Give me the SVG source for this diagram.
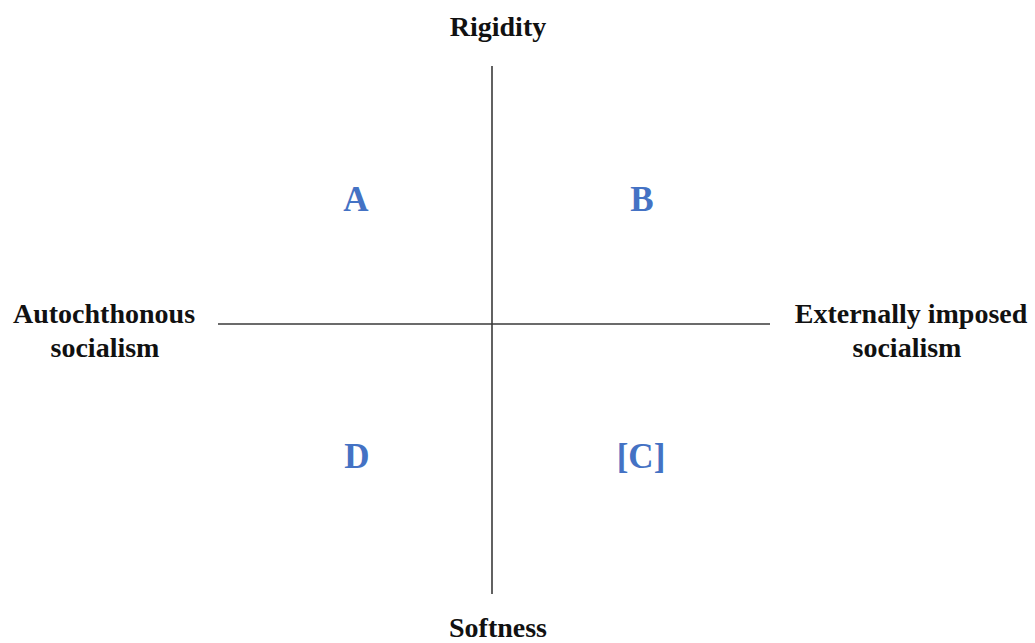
<svg xmlns="http://www.w3.org/2000/svg" width="1035" height="643" viewBox="0 0 1035 643">
<style>
.axis{stroke:#3a3a3a;stroke-width:1.6;fill:none}
.lbl{font-family:"Liberation Serif","Times New Roman",serif;font-weight:bold;font-size:28px;fill:#111;text-anchor:middle}
.q{font-family:"Liberation Serif","Times New Roman",serif;font-weight:bold;font-size:35px;fill:#4472C4;text-anchor:middle}
</style>
<rect width="1035" height="643" fill="#fff"/>
<g id="connectors">
<line class="axis" x1="492" y1="66" x2="492" y2="594"/>
<line class="axis" x1="218" y1="324" x2="770" y2="324"/>
</g>
<g id="rigidity"><text class="lbl" x="498" y="36">Rigidity</text></g>
<g id="softness"><text class="lbl" x="498" y="637">Softness</text></g>
<g id="autochthonous"><text class="lbl" x="104" y="323">Autochthonous</text><text class="lbl" x="105" y="357">socialism</text></g>
<g id="external"><text class="lbl" x="911" y="323">Externally imposed</text><text class="lbl" x="907" y="357">socialism</text></g>
<g id="qA"><text class="q" x="356" y="211">A</text></g>
<g id="qB"><text class="q" x="642" y="211">B</text></g>
<g id="qD"><text class="q" x="357" y="468">D</text></g>
<g id="qC"><text class="q" x="641" y="468">[C]</text></g>
</svg>
